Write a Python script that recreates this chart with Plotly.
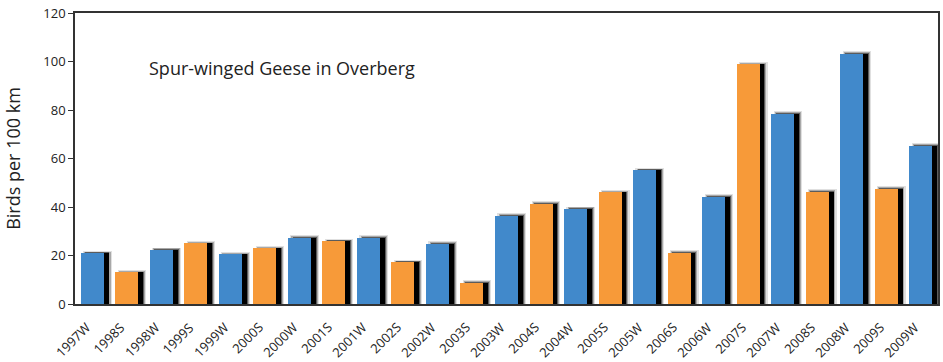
import plotly.graph_objects as go

# Survey seasons (W = winter, S = summer) and counts of birds per 100 km
seasons = ["1997W", "1998S", "1998W", "1999S", "1999W", "2000S", "2000W", "2001S",
           "2001W", "2002S", "2002W", "2003S", "2003W", "2004S", "2004W", "2005S",
           "2005W", "2006S", "2006W", "2007S", "2007W", "2008S", "2008W", "2009S",
           "2009W"]
birds_per_100km = [21, 13, 22.3, 25, 20.5, 23, 27.3, 26, 27.3, 17.3, 24.8, 8.7,
                   36.4, 41.3, 39.2, 46, 55.2, 21.2, 44.3, 98.8, 78.5, 46.3, 103.3,
                   47.6, 65.3]
y_ticks = [0, 20, 40, 60, 80, 100, 120]

BLUE = "#4189CB"
ORANGE = "#F79A39"
colors = [BLUE if s.endswith("W") else ORANGE for s in seasons]

BAR_W = 0.667
SHIFT = 0.15

fig = go.Figure()

# soft drop shadow: a few translucent layers, then a solid core
for grow, lift, alpha in [(0.16, 1.0, 0.12), (0.09, 0.6, 0.25), (0.03, 0.3, 0.45)]:
    fig.add_trace(go.Bar(
        x=seasons, y=[v + lift for v in birds_per_100km],
        width=BAR_W + grow, offset=-BAR_W / 2 + SHIFT - grow / 2,
        marker=dict(color=f"rgba(0,0,0,{alpha})", line=dict(width=0)),
        hoverinfo="skip", showlegend=False))
fig.add_trace(go.Bar(
    x=seasons, y=birds_per_100km, width=BAR_W - 0.02, offset=-BAR_W / 2 + SHIFT + 0.01,
    marker=dict(color="#000000", line=dict(width=0)),
    hoverinfo="skip", showlegend=False))

# the bars themselves
fig.add_trace(go.Bar(
    x=seasons, y=birds_per_100km, width=BAR_W, offset=-BAR_W / 2,
    marker=dict(color=colors, line=dict(width=0)), showlegend=False))

fig.add_annotation(
    text="Spur-winged Geese in Overberg", xref="paper", yref="paper",
    x=0.083, y=0.81, xanchor="left", yanchor="middle", showarrow=False,
    font=dict(family="Open Sans", size=18, color="#222222"))

# slanted season labels under each bar
for s in seasons:
    fig.add_annotation(
        text=s, x=s, xref="x", y=0, yref="paper", textangle=-45,
        xanchor="right", yanchor="top", xshift=3, yshift=-13, showarrow=False,
        borderpad=0, font=dict(family="Open Sans", size=13, color="#222222"))

fig.update_layout(
    width=943, height=362, barmode="overlay", bargap=0,
    margin=dict(l=75, r=5, t=13, b=58, autoexpand=False),
    paper_bgcolor="white", plot_bgcolor="white",
    font=dict(family="Open Sans", color="#222222"),
    xaxis=dict(type="category", range=[-0.5, 24.5], showticklabels=False,
               automargin=False, showline=True, linecolor="#333333",
               linewidth=1.5, mirror=True, ticks="", showgrid=False),
    yaxis=dict(range=[0, 120], tickvals=y_ticks, tickfont=dict(size=13),
               automargin=False,
               title=dict(text="Birds per 100 km", font=dict(size=18), standoff=18),
               showline=True, linecolor="#333333", linewidth=1.5, mirror=True,
               ticks="outside", ticklen=5, tickcolor="#333333",
               showgrid=False, zeroline=False))

fig.write_html("out.html")
